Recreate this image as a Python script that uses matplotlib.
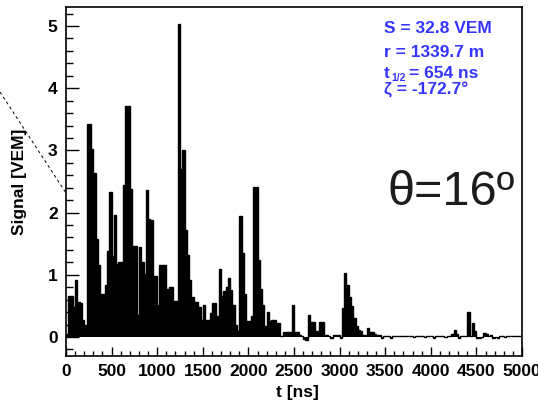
import numpy as np
import matplotlib
matplotlib.use("Agg")
import matplotlib.pyplot as plt
from matplotlib.lines import Line2D

# fonts: narrow bold sans like the ROOT/Helvetica look of the original
narrow = ['Liberation Sans Narrow', 'Liberation Sans', 'DejaVu Sans']
plt.rcParams['font.family'] = narrow

# trace: 25 ns bins from 0 to 5000 ns, signal in VEM
bin_width = 25
signal = [
    0.05, 0.66, 0.66, 0.49, 0.92, 0.57, 0.55, 0.28, 0.20, 3.42,   # 0-225
    3.42, 3.02, 2.64, 1.58, 1.16, 0.69, 0.69, 0.84, 1.38, 2.33,   # 250-475
    1.30, 1.96, 1.18, 1.20, 1.20, 2.44, 3.71, 3.71, 2.38, 1.46,   # 500-725
    1.46, 0.35, 1.44, 1.20, 1.02, 2.36, 1.90, 1.88, 0.98, 0.98,   # 750-975
    0.51, 1.15, 1.15, 1.15, 0.78, 0.81, 0.81, 0.58, 0.58, 5.03,   # 1000-1225
    2.70, 3.00, 1.72, 1.32, 0.92, 0.64, 0.57, 0.57, 0.49, 0.27,   # 1250-1475
    0.51, 0.27, 0.27, 0.39, 0.54, 0.54, 0.33, 1.09, 0.66, 0.74,   # 1500-1725
    0.81, 0.95, 0.75, 0.51, 0.20, 0.09, 1.95, 1.35, 0.69, 0.25,   # 1750-1975
    0.25, 0.33, 2.41, 2.41, 1.24, 0.77, 0.51, 0.17, 0.40, 0.25,   # 2000-2225
    0.28, 0.28, 0.23, 0.23, 0.02, 0.08, 0.08, 0.08, 0.08, 0.52,   # 2250-2475
    0.08, 0.08, 0.03, 0.01, -0.03, -0.05, 0.35, 0.24, 0.24, 0.09, # 2500-2725
    0.09, 0.24, 0.24, 0.03, 0.03, 0.01, -0.02, 0.03, 0.03, 0.03,  # 2750-2975
    -0.02, 0.46, 1.03, 0.84, 0.65, 0.50, 0.30, 0.17, 0.12, 0.10,  # 3000-3225
    0.04, 0.04, 0.14, 0.08, 0.08, 0.05, 0.04, 0.04, -0.02, 0.02,  # 3250-3475
    0.02, 0.01, -0.01, 0.02, 0.02, 0.01, 0.02, 0.02, 0.01, 0.02,  # 3500-3725
    0.01, 0.02, 0.00, 0.02, 0.02, 0.01, 0.02, 0.00, 0.02, 0.02,   # 3750-3975
    0.01, -0.02, 0.02, 0.01, 0.01, 0.02, 0.00, 0.02, 0.01, 0.05,  # 4000-4225
    0.11, 0.05, -0.01, 0.02, 0.01, 0.02, 0.40, 0.02, 0.23, 0.09,  # 4250-4475
    -0.01, -0.01, 0.00, 0.06, 0.05, 0.02, 0.03, -0.01, 0.00, -0.01, # 4500-4725
    0.02, 0.02, 0.00, 0.01, 0.02, 0.02, 0.01, 0.02, 0.02, 0.01,   # 4750-4975
]
edges = np.arange(len(signal) + 1) * bin_width

s_text = "S = 32.8 VEM"
r_text = "r = 1339.7 m"
t_half_text = "= 654 ns"
zeta_text = "\u03b6 = -172.7\u00b0"
zenith_label = "\u03b8=16\u00ba"

W, H = 538, 407
fig = plt.figure(figsize=(W / 100, H / 100), dpi=100)
ax = fig.add_axes([66 / W, 1 - 356 / H, (522 - 66) / W, (356 - 7) / H])

# filled histogram plus outline
ax.stairs(signal, edges, fill=True, color='black', baseline=0)
ax.stairs(signal, edges, color='black', linewidth=1.0, baseline=0)

ax.set_xlim(0, 5000)
ax.set_ylim(-0.305, 5.305)
ax.set_xticks(np.arange(0, 5001, 500))
ax.set_xticks(np.arange(0, 5001, 100), minor=True)
ax.set_yticks(np.arange(0, 6, 1))
ax.set_yticks(np.arange(-0.2, 5.3, 0.2), minor=True)

ax.tick_params(axis='both', which='both', direction='in', top=False, right=False,
               width=1.0, colors='black')
ax.tick_params(axis='x', which='major', length=6.5, pad=6, labelsize=12.5)
ax.tick_params(axis='x', which='minor', length=3.5)
ax.tick_params(axis='y', which='major', length=9.5, pad=6, labelsize=12.5)
ax.tick_params(axis='y', which='minor', length=5)
for lab in ax.get_xticklabels() + ax.get_yticklabels():
    lab.set_fontweight('bold')
for sp in ax.spines.values():
    sp.set_linewidth(1.2)

fig.text(297 / W, 1 - 393 / H, "t [ns]", ha='center', va='center',
         fontsize=12.5, fontweight='bold')
fig.text(20 / W, 1 - 182 / H, "Signal [VEM]", ha='center', va='center',
         rotation=90, fontsize=12.5, fontweight='bold')

# blue info box text
blue = '#3535ff'
def info(x, yb, txt, size=12.5):
    fig.text(x / W, 1 - yb / H, txt, ha='left', va='baseline', color=blue,
             fontsize=size, fontweight='bold')

info(384, 33, s_text)
info(384, 57, r_text)
info(384, 78, "t")
info(391, 81, "1/2", size=7.5)
info(409, 78, t_half_text)
info(384, 95, zeta_text)

fig.text(388 / W, 1 - 205 / H, zenith_label, ha='left', va='baseline',
         fontsize=35, color='#1c1c1c',
         family=['Liberation Sans', 'DejaVu Sans'])

# dashed pointer line coming in from the left
fig.add_artist(Line2D([0, 66 / W], [1 - 92 / H, 1 - 193 / H], transform=fig.transFigure,
                      color='black', linewidth=0.7, linestyle=(0, (3, 3))))

fig.savefig("out.png", dpi=100)
